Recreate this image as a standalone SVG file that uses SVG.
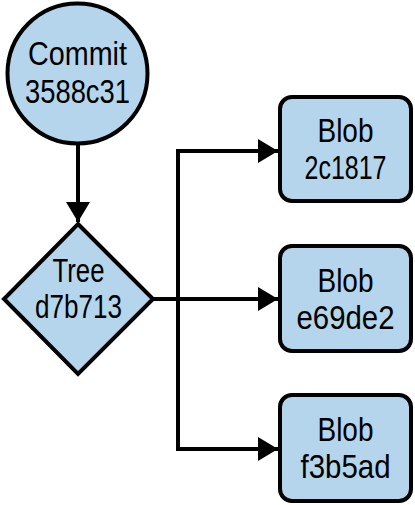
<svg xmlns="http://www.w3.org/2000/svg" width="415" height="505" viewBox="0 0 415 505">
<style>
.node{fill:#b4d5eb;stroke:#000;stroke-width:4}
.lbl{font-family:"Liberation Sans",Arial,sans-serif;font-size:33px;fill:#000;text-anchor:middle}
.conn{fill:none;stroke:#000;stroke-width:4}
</style>
<defs>
<marker id="arr" markerUnits="userSpaceOnUse" markerWidth="20" markerHeight="24" refX="20" refY="12" orient="auto" viewBox="0 0 20 24">
<path d="M0,0 L20,12 L0,24 Z" fill="#000"/>
</marker>
</defs>
<rect width="415" height="505" fill="#fff"/>
<g id="connectors">
<path class="conn" d="M78,144 V222" marker-end="url(#arr)"/>
<path class="conn" d="M153,299 H178"/>
<path class="conn" d="M178,151 V449"/>
<path class="conn" d="M176,151 H278" marker-end="url(#arr)"/>
<path class="conn" d="M178,299 H278" marker-end="url(#arr)"/>
<path class="conn" d="M176,449 H278" marker-end="url(#arr)"/>
</g>
<g id="commit">
<circle class="node" cx="77.5" cy="73.5" r="70"/>
<text class="lbl" x="77.5" y="65" textLength="99" lengthAdjust="spacingAndGlyphs">Commit</text>
<text class="lbl" x="77.5" y="103" textLength="105" lengthAdjust="spacingAndGlyphs">3588c31</text>
</g>
<g id="tree">
<polygon class="node" points="78,224 153,299 78,374 4,299"/>
<text class="lbl" x="78.5" y="282" textLength="52" lengthAdjust="spacingAndGlyphs">Tree</text>
<text class="lbl" x="78.5" y="318" textLength="87" lengthAdjust="spacingAndGlyphs">d7b713</text>
</g>
<g id="blob1">
<rect class="node" x="280" y="97" width="131" height="104" rx="12"/>
<text class="lbl" x="345.5" y="142" textLength="56" lengthAdjust="spacingAndGlyphs">Blob</text>
<text class="lbl" x="345.5" y="179" textLength="82" lengthAdjust="spacingAndGlyphs">2c1817</text>
</g>
<g id="blob2">
<rect class="node" x="280" y="246" width="131" height="105" rx="12"/>
<text class="lbl" x="345.5" y="292" textLength="56" lengthAdjust="spacingAndGlyphs">Blob</text>
<text class="lbl" x="345.5" y="329" textLength="98" lengthAdjust="spacingAndGlyphs">e69de2</text>
</g>
<g id="blob3">
<rect class="node" x="280" y="395" width="131" height="106" rx="12"/>
<text class="lbl" x="345.5" y="441" textLength="56" lengthAdjust="spacingAndGlyphs">Blob</text>
<text class="lbl" x="345.5" y="478" textLength="90" lengthAdjust="spacingAndGlyphs">f3b5ad</text>
</g>
</svg>
